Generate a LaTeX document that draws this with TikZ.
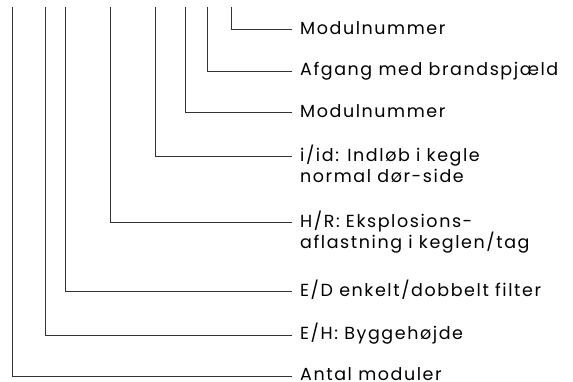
\documentclass[tikz,border=0pt]{standalone}
\usepackage{fontspec}
\setmainfont{Poppins}[LetterSpace=9]
\usetikzlibrary{positioning}

\begin{document}
\begin{tikzpicture}
[
    x=1pt, y=-1pt,
    desc/.style={
        anchor=west,
        inner sep=0pt,
        text height=12pt,
        text depth=2.5pt,
        font=\fontsize{17.5}{20.7}\selectfont,
    },
    lead/.style={draw=black!80, line width=0.9pt}
]
\useasboundingbox (0,0) rectangle (573,381);
\clip (0,0) rectangle (573,381);

% Top ends of the leader lines
\coordinate (t1) at (12.3,7);
\coordinate (t2) at (45,7);
\coordinate (t3) at (65.7,7);
\coordinate (t4) at (110,7);
\coordinate (t5) at (155,7);
\coordinate (t6) at (185,7);
\coordinate (t7) at (207.3,7);
\coordinate (t8) at (231.7,7);

% Define the nodes
\node[desc] (modnrB) at (300,29.3) {Modulnummer};
\node[desc] (afgang) at (300,71) {Afgang med brandspjæld};
\node[desc] (modnrA) at (300,112.3) {Modulnummer};
\node[desc] (indlob) at (300,156.7) {i/id: Indløb i kegle};
\node[desc, below=20.7pt of indlob.west, anchor=west] (indlobB) {normal dør-side};
\node[desc] (eksplo) at (300,222.7) {H/R: Eksplosions-};
\node[desc, below=20.7pt of eksplo.west, anchor=west] (eksploB) {aflastning i keglen/tag};
\node[desc] (filter) at (300,291.7) {E/D enkelt/dobbelt filter};
\node[desc] (hojde) at (300,335) {E/H: Byggehøjde};
\node[desc] (antal) at (300,376) {Antal moduler};

% Leader lines
\draw[lead] (t8) |- ([xshift=-8pt]modnrB.west);
\draw[lead] (t7) |- ([xshift=-8pt]afgang.west);
\draw[lead] (t6) |- ([xshift=-8pt]modnrA.west);
\draw[lead] (t5) |- ([xshift=-8pt]indlob.west);
\draw[lead] (t4) |- ([xshift=-8pt]eksplo.west);
\draw[lead] (t3) |- ([xshift=-8pt]filter.west);
\draw[lead] (t2) |- ([xshift=-8pt]hojde.west);
\draw[lead] (t1) |- ([xshift=-8pt]antal.west);

\end{tikzpicture}
\end{document}
